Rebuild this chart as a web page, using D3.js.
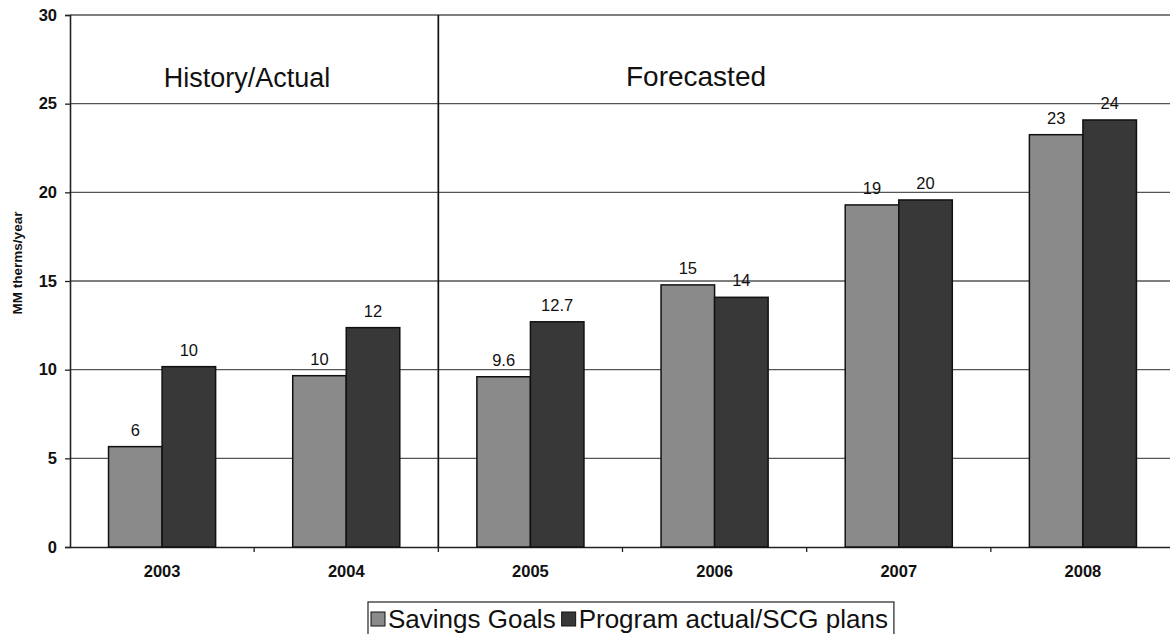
<!DOCTYPE html>
<html>
<head>
<meta charset="utf-8">
<script src="https://cdn.jsdelivr.net/npm/d3@7"></script>
<style>
  html, body { margin: 0; padding: 0; background: #fff; overflow: hidden; }
  svg { display: block; font-family: Arial, "Liberation Sans", sans-serif; }
</style>
</head>
<body>
<svg id="chart" width="1170" height="634"></svg>
<script>
// Annual gas savings, MM therms/year
const years = ["2003", "2004", "2005", "2006", "2007", "2008"];
const seriesNames = ["Savings Goals", "Program actual/SCG plans"];
const savingsGoals = [5.66, 9.66, 9.6, 14.78, 19.29, 23.25];
const programPlans = [10.17, 12.37, 12.7, 14.08, 19.57, 24.08];
// decimals shown in each year's value labels
const labelDecimals = [0, 0, 1, 0, 0, 0];
const yTicks = [0, 5, 10, 15, 20, 25, 30];
const periodLabels = ["History/Actual", "Forecasted"];

const colors = ["#8a8a8a", "#383838"];

const svg = d3.select("#chart");
// the plot area runs slightly past the right edge of the page
const plotLeft = 70, plotRight = 1175, plotTop = 15, plotBottom = 547;

const x0 = d3.scaleBand().domain(years).range([plotLeft, plotRight]).paddingInner(0).paddingOuter(0);
const x1 = d3.scaleBand().domain(seriesNames).range([0, x0.bandwidth()]).paddingInner(0).paddingOuter(0.72);
const y = d3.scaleLinear().domain([0, 30]).range([plotBottom, plotTop]);

const rows = years.map((yr, i) => ({
  year: yr,
  dec: labelDecimals[i],
  values: [savingsGoals[i], programPlans[i]]
}));

// horizontal gridlines
svg.append("g")
  .selectAll("line")
  .data(yTicks.filter(t => t > 0))
  .join("line")
  .attr("x1", plotLeft).attr("x2", plotRight)
  .attr("y1", d => y(d)).attr("y2", d => y(d))
  .attr("stroke", "#555").attr("stroke-width", 1.4);

// y axis
const yAxis = svg.append("g")
  .attr("transform", `translate(${plotLeft},0)`)
  .call(d3.axisLeft(y).tickValues(yTicks).tickSize(5).tickPadding(8).tickFormat(d3.format("d")));
yAxis.select(".domain").attr("stroke", "#222").attr("stroke-width", 1.6);
yAxis.selectAll(".tick line").attr("stroke", "#222").attr("stroke-width", 1.3);
yAxis.selectAll(".tick text")
  .attr("font-size", 16.5).attr("font-weight", "bold").attr("fill", "#111")
  .attr("font-family", "Arial, 'Liberation Sans', sans-serif");

// x axis with ticks at category boundaries
const xAxis = svg.append("g")
  .attr("transform", `translate(0,${plotBottom})`)
  .call(d3.axisBottom(x0).tickSize(0).tickPadding(18));
xAxis.select(".domain").attr("stroke", "#222").attr("stroke-width", 1.6);
xAxis.selectAll(".tick text")
  .attr("font-size", 16.5).attr("font-weight", "bold").attr("fill", "#111")
  .attr("font-family", "Arial, 'Liberation Sans', sans-serif");
xAxis.append("g")
  .selectAll("line")
  .data(years.slice(1).map(yr => x0(yr)))
  .join("line")
  .attr("x1", d => d).attr("x2", d => d)
  .attr("y1", 0).attr("y2", 5)
  .attr("stroke", "#222").attr("stroke-width", 1.3);

// divider between history and forecast
svg.append("line")
  .attr("x1", x0("2005")).attr("x2", x0("2005"))
  .attr("y1", plotTop).attr("y2", plotBottom)
  .attr("stroke", "#111").attr("stroke-width", 1.7);

// bars
const groups = svg.append("g")
  .selectAll("g")
  .data(rows)
  .join("g")
  .attr("transform", d => `translate(${x0(d.year)},0)`);

groups.selectAll("rect")
  .data(d => d.values.map((v, k) => ({ v, k })))
  .join("rect")
  .attr("x", d => x1(seriesNames[d.k]))
  .attr("y", d => y(d.v))
  .attr("width", x1.bandwidth())
  .attr("height", d => y(0) - y(d.v))
  .attr("fill", d => colors[d.k])
  .attr("stroke", "#111")
  .attr("stroke-width", 1.5);

// value labels
groups.selectAll("text")
  .data(d => d.values.map((v, k) => ({ v, k, dec: d.dec })))
  .join("text")
  .attr("x", d => x1(seriesNames[d.k]) + x1.bandwidth() / 2)
  .attr("y", d => y(d.v) - 11)
  .attr("text-anchor", "middle")
  .attr("font-size", 16.5)
  .attr("fill", "#111")
  .text(d => d.v.toFixed(d.dec));

// period annotations
svg.append("text")
  .attr("x", 247).attr("y", 87)
  .attr("text-anchor", "middle")
  .attr("font-size", 27).attr("fill", "#111")
  .text(periodLabels[0]);
svg.append("text")
  .attr("x", 696).attr("y", 86)
  .attr("text-anchor", "middle")
  .attr("font-size", 28).attr("fill", "#111")
  .text(periodLabels[1]);

// y axis title
svg.append("text")
  .attr("transform", "translate(22,263) rotate(-90)")
  .attr("text-anchor", "middle")
  .attr("font-size", 13.5).attr("font-weight", "bold").attr("fill", "#111")
  .text("MM therms/year");

// legend
const legend = svg.append("g").attr("transform", "translate(368,602)");
const legendFont = 26;
let cx = 3;
seriesNames.forEach((name, k) => {
  const g = legend.append("g").attr("transform", `translate(${cx},0)`);
  g.append("rect")
    .attr("x", 0).attr("y", 10).attr("width", 14).attr("height", 14)
    .attr("fill", colors[k]).attr("stroke", "#111").attr("stroke-width", 1);
  const t = g.append("text")
    .attr("x", 17).attr("y", 26)
    .attr("font-size", legendFont).attr("fill", "#111")
    .text(name);
  cx += 17 + t.node().getComputedTextLength() + 6;
});
legend.insert("rect", ":first-child")
  .attr("x", 0).attr("y", 0)
  .attr("width", cx).attr("height", 40)
  .attr("fill", "#fff").attr("stroke", "#333").attr("stroke-width", 1.3);
</script>
</body>
</html>
